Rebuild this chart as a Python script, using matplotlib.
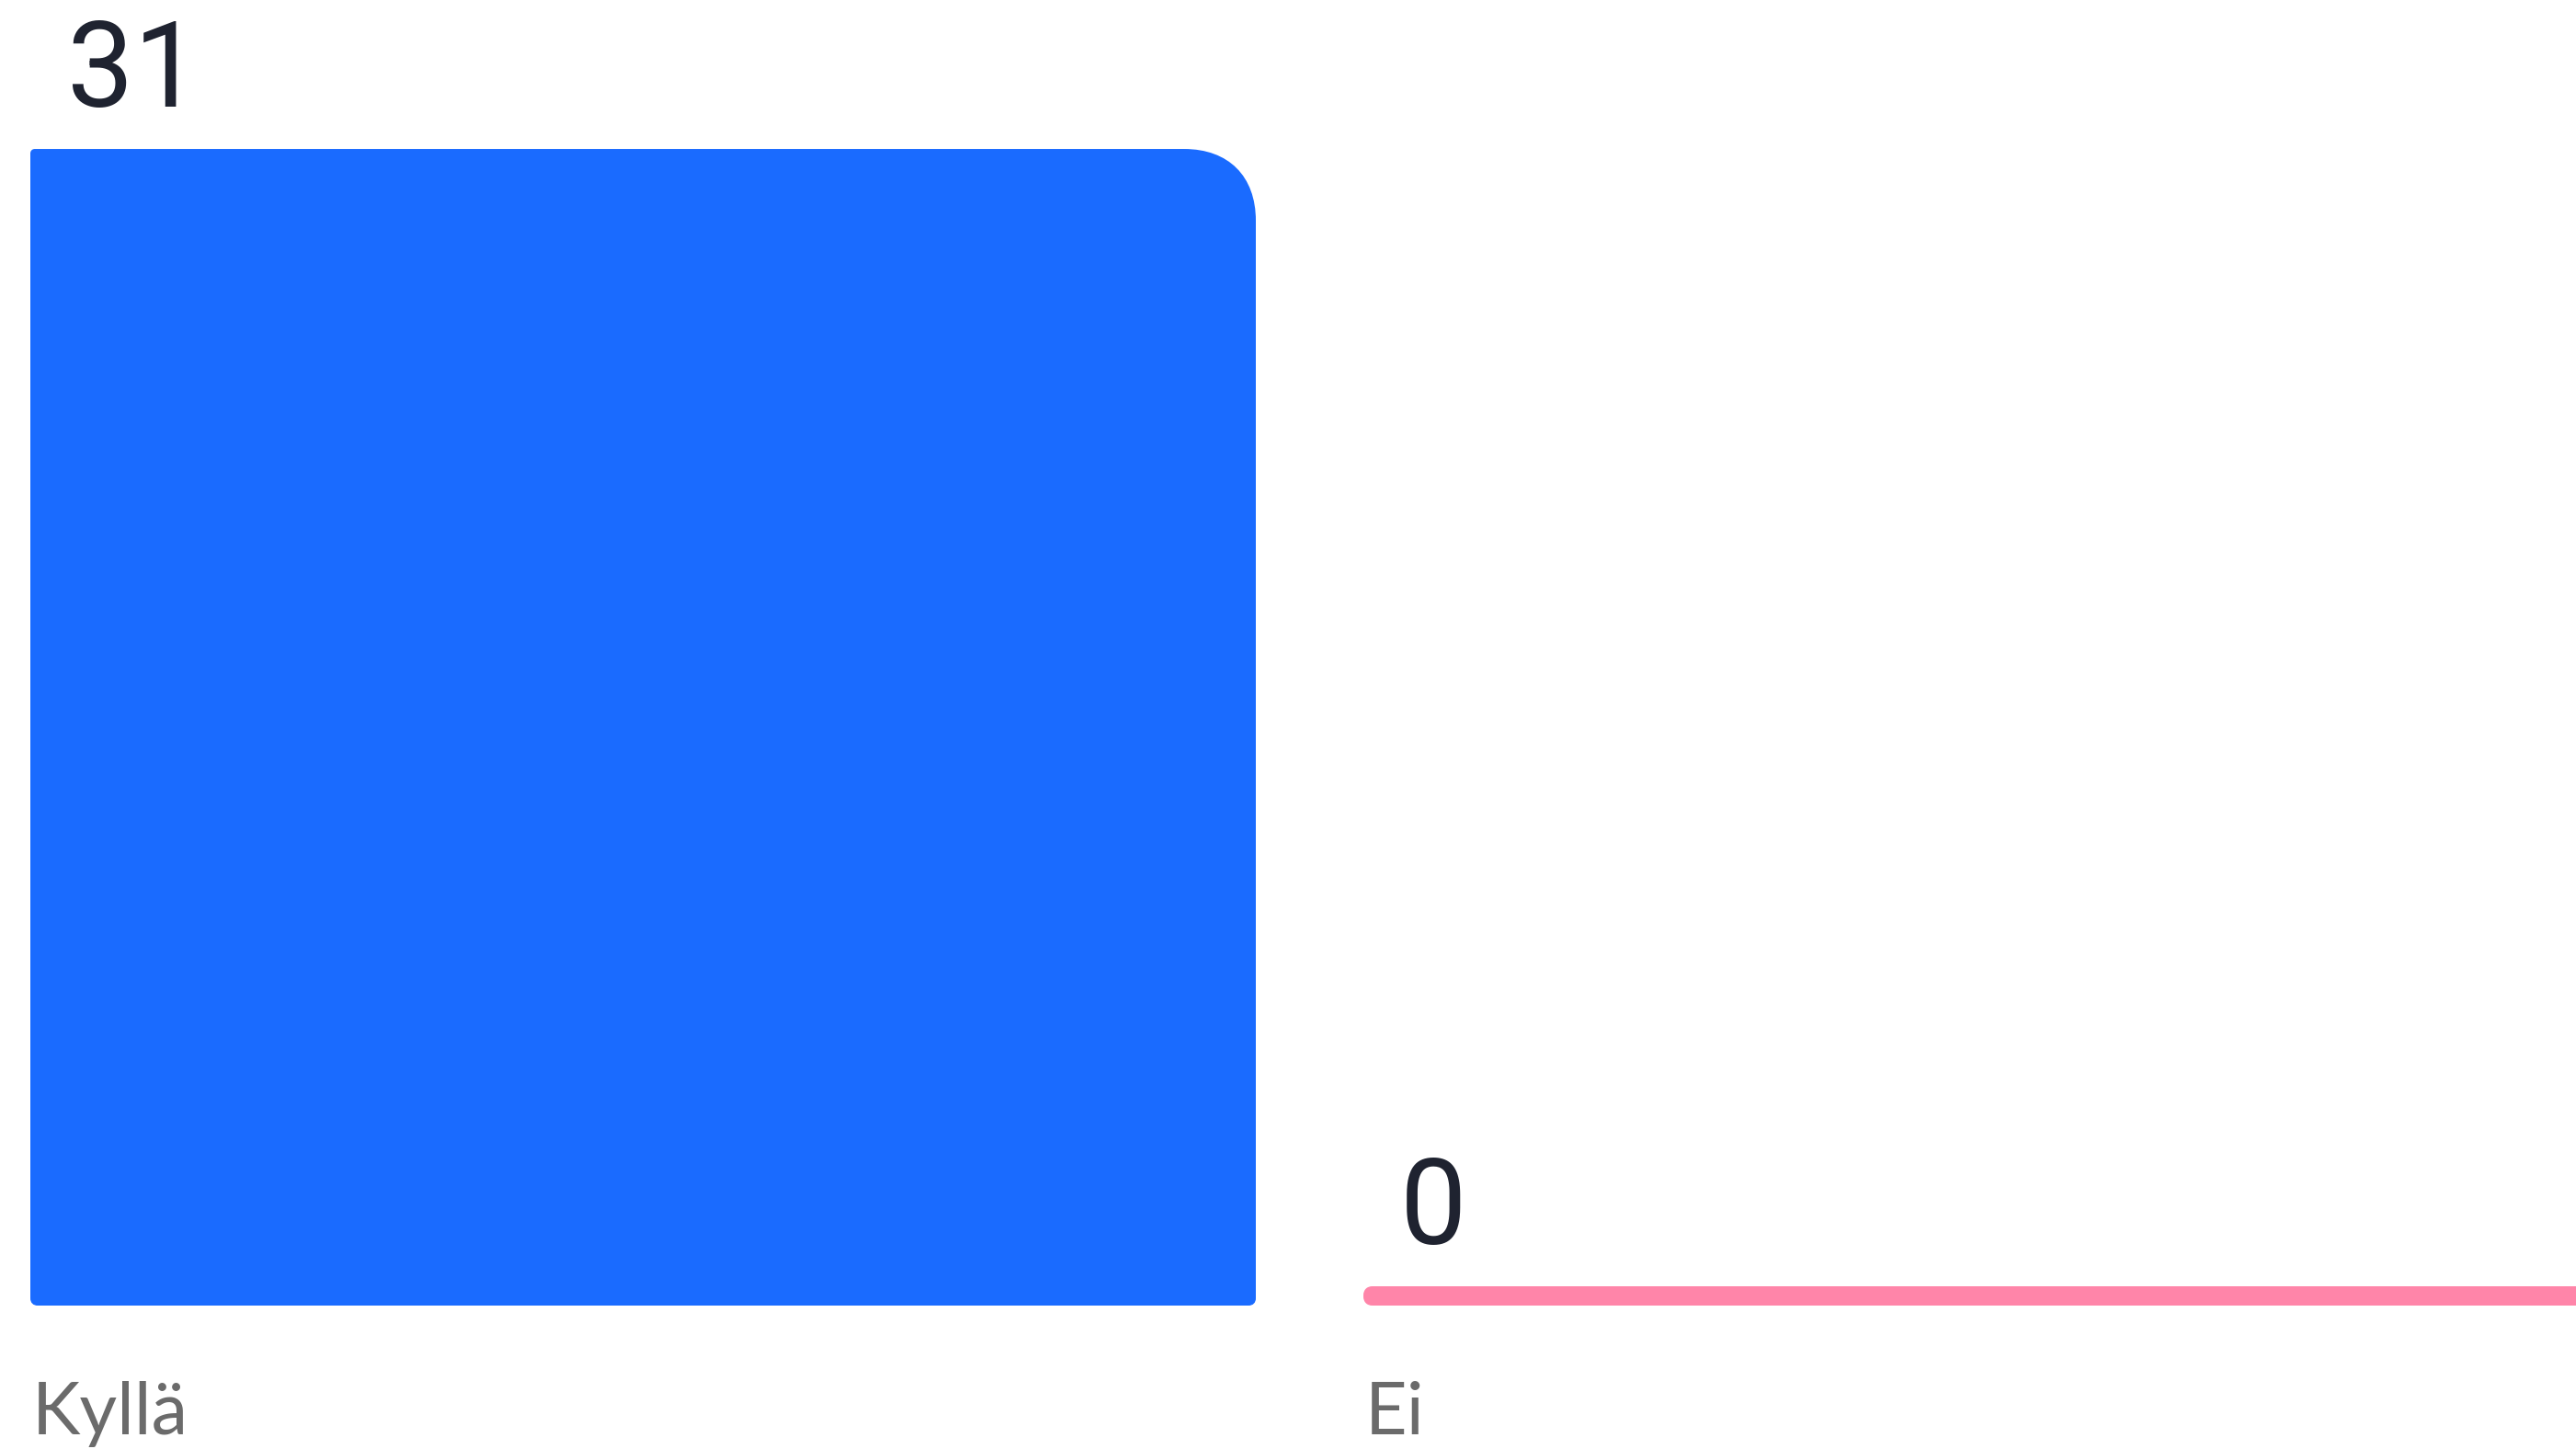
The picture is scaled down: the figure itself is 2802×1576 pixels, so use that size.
import matplotlib.pyplot as plt
from matplotlib.path import Path
from matplotlib.patches import PathPatch
from matplotlib.transforms import offset_copy

# data
categories = ['Kyllä', 'Ei']
values = [31, 0]
colors = ['#1a6bff', '#ff85a9']

# layout (pixels of the 2802x1576 output)
W, H, DPI = 2802, 1576, 200
px_x = 1333.0          # pixels per bar width
px_y = 40.58           # pixels per unit of value
left_px, base_px = 33, 1420
gap = 117 / px_x
min_px = 21            # a zero bar is still drawn this thick


def corner(p0, c, p3, k=0.62):
    p1 = (p0[0] + k * (c[0] - p0[0]), p0[1] + k * (c[1] - p0[1]))
    p2 = (p3[0] + k * (c[0] - p3[0]), p3[1] + k * (c[1] - p3[1]))
    return [p1, p2, p3]


def bar_path(x0, y0, x1, y1, r):
    # r = (top-left, top-right, bottom-right, bottom-left) in pixels
    tl, tr, br, bl = [(v / px_x, v / px_y) for v in r]
    verts = [(x0 + bl[0], y0), (x1 - br[0], y0)]
    codes = [Path.MOVETO, Path.LINETO]
    verts += corner((x1 - br[0], y0), (x1, y0), (x1, y0 + br[1]))
    codes += [Path.CURVE4] * 3
    verts.append((x1, y1 - tr[1])); codes.append(Path.LINETO)
    verts += corner((x1, y1 - tr[1]), (x1, y1), (x1 - tr[0], y1))
    codes += [Path.CURVE4] * 3
    verts.append((x0 + tl[0], y1)); codes.append(Path.LINETO)
    verts += corner((x0 + tl[0], y1), (x0, y1), (x0, y1 - tl[1]))
    codes += [Path.CURVE4] * 3
    verts.append((x0, y0 + bl[1])); codes.append(Path.LINETO)
    verts += corner((x0, y0 + bl[1]), (x0, y0), (x0 + bl[0], y0))
    codes += [Path.CURVE4] * 3
    verts.append((x0 + bl[0], y0)); codes.append(Path.CLOSEPOLY)
    return Path(verts, codes)


fig = plt.figure(figsize=(W / DPI, H / DPI), dpi=DPI)
ax = fig.add_axes([0, 0, 1, 1])
ax.set_xlim(-left_px / px_x, (W - left_px) / px_x)
ax.set_ylim(-(H - base_px) / px_y, base_px / px_y)
ax.axis('off')

num_tr = offset_copy(ax.transData, fig, x=40, y=46, units='dots')
lab_tr = offset_copy(ax.transData, fig, x=2, y=-140, units='dots')

for i, (cat, val, col) in enumerate(zip(categories, values, colors)):
    x0 = i * (1 + gap)
    if val > 0:
        top = val
        radii = (5, 78, 8, 8)
    else:
        top = min_px / px_y
        radii = (10, 10, 10, 10)
    ax.add_patch(PathPatch(bar_path(x0, 0, x0 + 1, top, radii),
                           facecolor=col, edgecolor='none'))
    ax.text(x0, top, str(val), transform=num_tr, ha='left', va='baseline',
            fontsize=46.5, color='#1f2330', family='Roboto')
    ax.text(x0, 0, cat, transform=lab_tr, ha='left', va='baseline',
            fontsize=28.5, color='#6b6b6b', family='Lato')

fig.savefig('out.png', dpi=DPI)
